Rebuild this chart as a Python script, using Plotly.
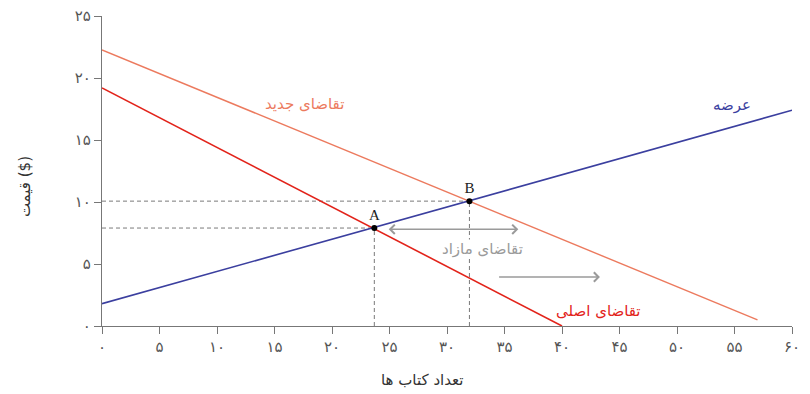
import plotly.graph_objects as go

# Data
supply_x = [0, 60]
supply_y = [1.8, 17.4]
orig_demand_x = [0, 40]
orig_demand_y = [19.2, 0]
new_demand_x = [0, 57.0]
new_demand_y = [22.26, 0.5]
points_label = ["A", "B"]
points_x = [23.68, 31.95]
points_y = [7.9, 10.07]
x_ticks = [0, 5, 10, 15, 20, 25, 30, 35, 40, 45, 50, 55, 60]
y_ticks = [0, 5, 10, 15, 20, 25]

def fa_digits(n):
    return str(n).translate(str.maketrans("0123456789", "۰۱۲۳۴۵۶۷۸۹"))

x_ticktext = [fa_digits(v) for v in x_ticks]
y_ticktext = [fa_digits(v) for v in y_ticks]

BLUE = "#3b3f9f"
RED = "#e2231a"
ORANGE = "#ec7a5e"
DASH = "#7a7a7a"
ARROW = "#9a9a9a"
FONT = "DejaVu Sans"

fig = go.Figure()

# dashed guide lines
for px, py in zip(points_x, points_y):
    fig.add_trace(go.Scatter(x=[0, px], y=[py, py], mode="lines",
                             line=dict(color=DASH, width=1, dash="4px,3px"),
                             hoverinfo="skip", showlegend=False))
    fig.add_trace(go.Scatter(x=[px, px], y=[0, py], mode="lines",
                             line=dict(color=DASH, width=1, dash="4px,3px"),
                             hoverinfo="skip", showlegend=False))

fig.add_trace(go.Scatter(x=new_demand_x, y=new_demand_y, mode="lines",
                         line=dict(color=ORANGE, width=1.4), showlegend=False))
fig.add_trace(go.Scatter(x=orig_demand_x, y=orig_demand_y, mode="lines",
                         line=dict(color=RED, width=1.6), showlegend=False))
fig.add_trace(go.Scatter(x=supply_x, y=supply_y, mode="lines",
                         line=dict(color=BLUE, width=1.6), showlegend=False))
fig.add_trace(go.Scatter(x=points_x, y=points_y, mode="markers+text",
                         marker=dict(color="black", size=6),
                         text=points_label, textposition="top center",
                         textfont=dict(family="Liberation Serif", size=15, color="#222"),
                         showlegend=False, cliponaxis=False))

# line labels
fig.add_annotation(x=17.6, y=17.9, text="تقاضای جدید", showarrow=False,
                   font=dict(family=FONT, size=15, color=ORANGE))
fig.add_annotation(x=54.8, y=17.8, text="عرضه", showarrow=False,
                   font=dict(family=FONT, size=15, color=BLUE))
fig.add_annotation(x=43.2, y=1.2, text="تقاضای اصلی", showarrow=False,
                   font=dict(family=FONT, size=15, color=RED))
fig.add_annotation(x=33.1, y=6.2, text="تقاضای مازاد", showarrow=False,
                   bgcolor="white", borderpad=0,
                   font=dict(family=FONT, size=15, color=ARROW))

# excess demand double arrow
fig.add_annotation(x=36.2, y=7.8, ax=24.8, ay=7.8, xref="x", yref="y",
                   axref="x", ayref="y", text="", showarrow=True,
                   arrowhead=4, startarrowhead=4, arrowside="end+start",
                   arrowsize=1.2, arrowwidth=1.5, arrowcolor=ARROW)
# shift arrow
fig.add_annotation(x=43.3, y=3.95, ax=34.4, ay=3.95, xref="x", yref="y",
                   axref="x", ayref="y", text="", showarrow=True,
                   arrowhead=4, arrowsize=1.2, arrowwidth=1.5, arrowcolor=ARROW)

# axis titles
fig.add_annotation(xref="paper", yref="paper", x=0.465, y=0, yshift=-54,
                   text="تعداد کتاب ها", showarrow=False, yanchor="middle",
                   font=dict(family=FONT, size=15, color="#333"))
fig.add_annotation(xref="paper", yref="paper", x=0, xshift=-77, y=0.448,
                   text="قیمت ($)", showarrow=False, textangle=-90,
                   xanchor="center", yanchor="middle",
                   font=dict(family=FONT, size=15, color="#333"))

fig.update_layout(
    width=810, height=394,
    margin=dict(l=102, r=18, t=16, b=68),
    plot_bgcolor="white", paper_bgcolor="white",
    font=dict(family=FONT, size=13, color="#333"),
)
fig.update_xaxes(range=[0, 60], tickmode="array", tickvals=x_ticks, ticktext=x_ticktext,
                 showgrid=False, zeroline=False, showline=True, linecolor="#777",
                 linewidth=1.2, ticks="outside", ticklen=7, tickcolor="#777",
                 automargin=False,
                 tickfont=dict(size=15, color="#555"))
fig.update_yaxes(range=[0, 25], tickmode="array", tickvals=y_ticks, ticktext=y_ticktext,
                 showgrid=False, zeroline=False, showline=True, linecolor="#777",
                 linewidth=1.2, ticks="outside", ticklen=7, tickcolor="#777",
                 automargin=False,
                 tickfont=dict(size=15, color="#555"))

fig.write_html("out.html", config={"displayModeBar": False},
               post_script="document.body.style.margin='0';document.body.style.overflow='hidden';")
